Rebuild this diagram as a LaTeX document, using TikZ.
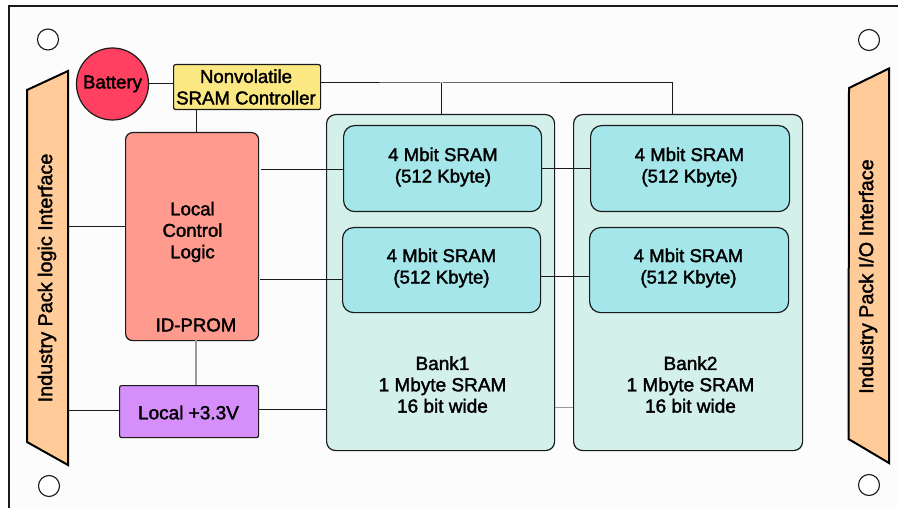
\documentclass[tikz,border=0pt]{standalone}
\usepackage{fontspec}
\setmainfont{Liberation Sans}
\definecolor{boardbg}{HTML}{FCFCFC}
\definecolor{edgec}{HTML}{1A1A1A}
\definecolor{ifacec}{HTML}{FFCC99}
\definecolor{battc}{HTML}{FF4060}
\definecolor{ctrlc}{HTML}{FCE883}
\definecolor{logicc}{HTML}{FF9A8F}
\definecolor{powc}{HTML}{D68FFA}
\definecolor{bankc}{HTML}{D4F0EA}
\definecolor{sramc}{HTML}{A5E6EA}
\newcommand\thicktext{\special{pdf:code 2 Tr 0.35 w 0 G}}
\tikzset{
  x=1pt,y=-1pt,
  txt/.style={font=\fontsize{18.6}{21.5}\selectfont,align=center,inner sep=0pt,text=black,execute at begin node=\thicktext},
  bigtxt/.style={font=\fontsize{19.8}{22}\selectfont,align=center,inner sep=0pt,text=black,execute at begin node=\thicktext},
  pbox/.style={draw=edgec,line width=1.2pt,rounded corners=#1,inner sep=0pt,anchor=north west},
  pbox/.default=3pt,
  wire/.style={draw=edgec,line width=1pt},
  graywire/.style={draw=gray!80,line width=1.2pt},
  hole/.style={circle,draw=edgec,line width=1.1pt,fill=white,minimum size=21pt,inner sep=0pt},
  iface/.style={draw=black,line width=2pt,fill=ifacec,line join=miter}
}
\begin{document}
\begin{tikzpicture}
\useasboundingbox (0,0) rectangle (898,508);
\fill[white] (0,0) rectangle (898,508);
\fill[boardbg] (9,6) rectangle (898,508);
\draw[edgec,line width=1.5pt] (898,6) -- (9,6) -- (9,508);
% mounting holes
\node[hole] (h1) at (48,39.5) {};
\node[hole] (h2) at (49,486) {};
\node[hole] (h3) at (869,40) {};
\node[hole] (h4) at (869,485) {};
% interfaces
\draw[iface] (27,90) -- (68,71) -- (68,465) -- (27,442) -- cycle;
\draw[iface] (849,88) -- (889,68.5) -- (889,463) -- (848.5,439) -- cycle;
\coordinate (ifl1) at (68,227);
\coordinate (ifl2) at (68,410);
\node[bigtxt,rotate=90] (ifacel) at (47,278) {Industry Pack logic Interface};
\node[bigtxt,rotate=90] (ifacer) at (868,276.5) {Industry Pack I/O Interface};
% banks
\node[pbox=9pt,fill=bankc,minimum width=228pt,minimum height=336pt] (bank1) at (326,114) {};
\node[pbox=9pt,fill=bankc,minimum width=229pt,minimum height=336pt] (bank2) at (573,114) {};
\node[txt,font=\fontsize{19}{21.3}\selectfont] (bank1t) at (442.5,384.5) {Bank1\\1 Mbyte SRAM\\16 bit wide};
\node[txt,font=\fontsize{19}{21.3}\selectfont] (bank2t) at (690.5,384.5) {Bank2\\1 Mbyte SRAM\\16 bit wide};
% SRAMs
\node[pbox=11pt,fill=sramc,minimum width=198pt,minimum height=86pt] (sa) at (343,125) {};
\node[pbox=11pt,fill=sramc,minimum width=198pt,minimum height=85pt] (sb) at (342,227) {};
\node[pbox=11pt,fill=sramc,minimum width=199pt,minimum height=86pt] (sc) at (590,125) {};
\node[pbox=11pt,fill=sramc,minimum width=199pt,minimum height=85pt] (sd) at (589,227) {};
\node[txt] (sat) at (443,167) {4 Mbit SRAM\\(512 Kbyte)};
\node[txt] (sbt) at (441.5,268) {4 Mbit SRAM\\(512 Kbyte)};
\node[txt] (sct) at (689.5,167) {4 Mbit SRAM\\(512 Kbyte)};
\node[txt] (sdt) at (688.5,268) {4 Mbit SRAM\\(512 Kbyte)};
% other blocks
\node[circle,draw=edgec,line width=1.2pt,fill=battc,minimum size=72pt,inner sep=0pt,font=\fontsize{18.6}{21}\selectfont,execute at begin node=\thicktext] (batt) at (112.5,84) {Battery};
\node[pbox=2pt,fill=ctrlc,minimum width=147pt,minimum height=45pt] (ctrl) at (173,64) {};
\node[txt] (ctrlt) at (246,87) {Nonvolatile\\SRAM Controller};
\node[pbox=7pt,fill=logicc,minimum width=133pt,minimum height=208pt] (logic) at (125,132) {};
\node[txt] (logict) at (192.5,232) {Local\\Control\\Logic};
\node[txt] (prom) at (196,325) {ID-PROM};
\node[pbox=2pt,fill=powc,minimum width=139pt,minimum height=52pt] (pow) at (119,385) {};
\node[txt,font=\fontsize{19}{21}\selectfont] (powt) at (188.5,412.5) {Local +3.3V};
% connectors
\coordinate (j1) at (441,83);
\coordinate (j2) at (672,83);
\draw[wire] (batt.east) -- (ctrl.west |- batt.east);
\draw[wire] (ctrl.east |- j1) -- (j1) -- (j2) -- (j2 |- bank2.north);
\draw[wire] (j1) -- (j1 |- bank1.north);
\draw[wire] (196.5,109) -- (196.5,132);
\draw[wire] (261,170) -- (sa.west |- 0,170);
\draw[wire] (260,279) -- (sb.west |- 0,279);
\draw[wire] (ifl1) -- (logic.west |- ifl1);
\draw[graywire] (196,340) -- (196,385);
\draw[wire,line width=.8pt] (ifl2) -- (pow.west |- ifl2);
\draw[wire,line width=.7pt] (pow.east |- 0,409) -- (bank1.west |- 0,409);
\draw[graywire,line width=.8pt] (bank1.east |- 0,407) -- (bank2.west |- 0,407);
\draw[wire] (sa.east |- 0,169) -- (sc.west |- 0,169);
\draw[wire] (sb.east |- 0,276) -- (sd.west |- 0,276);
\end{tikzpicture}
\end{document}
